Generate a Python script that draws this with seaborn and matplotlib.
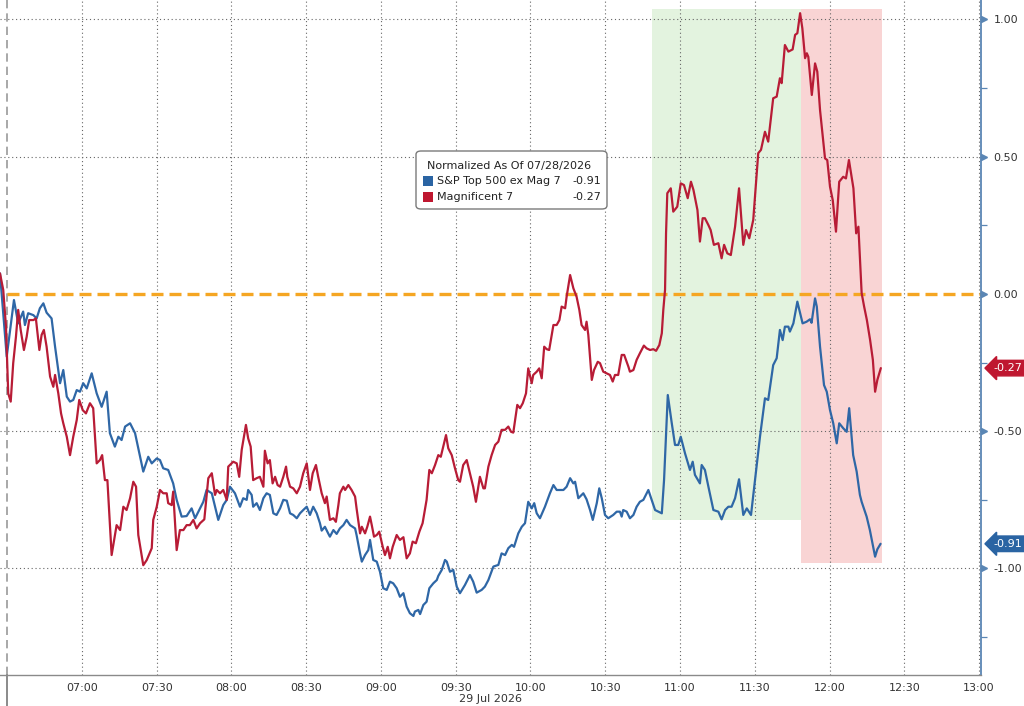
import numpy as np
import pandas as pd
import matplotlib
matplotlib.use("Agg")
import matplotlib.pyplot as plt
import matplotlib.dates as mdates
import matplotlib.transforms as mtransforms
from matplotlib.patches import FancyBboxPatch, Rectangle
import seaborn as sns

# ---------------- data (minutes after 06:30 on 29 Jul 2026, normalized %) ----------------
session_start = "2026-07-29 06:30"

blue_minutes = [-2.9, -0.2, 2.7, 4.4, 6.4, 7.1, 8.4, 10.5, 11.8, 13.1, 14.5, 15.8, 17.8, 19.2, 21.2, 22.5, 23.9, 25.2, 26.5, 27.9, 29.2, 30.5, 31.9, 33.9, 35.9, 37.9, 39.9, 41.2, 43.2, 44.6, 45.9, 47.3, 49.3, 51.3, 53.3, 54.6, 56.6, 58.0, 60.0, 61.3, 62.6, 64.6, 66.6, 68.0, 70.0, 72.0, 74.0, 75.4, 77.4, 78.7, 80.0, 82.1, 84.7, 86.7, 88.1, 89.4,
                91.4, 93.4, 94.7, 96.1, 96.7, 98.1, 98.7, 100.1, 101.4, 102.8, 104.1, 105.4, 106.8, 108.1, 109.5, 110.8, 112.2, 113.5, 114.8, 116.2, 117.5, 118.8, 120.2, 121.5, 122.8, 124.2, 125.5, 126.2, 127.5, 128.8, 129.5, 130.9, 132.2, 133.5, 134.9, 136.2, 137.6, 139.6, 140.2, 141.6, 142.3, 143.6, 144.9, 145.6, 146.9, 148.3, 149.6, 150.9, 152.3, 153.6, 154.9, 156.3, 157.6, 159.0, 160.3, 161.6, 163.0, 163.6, 165.0, 165.7, 167.0, 168.3, 169.4, 171.0, 172.4, 173.0, 174.4, 175.7, 176.4, 177.7, 179.0, 180.4, 181.7,
                183.7, 185.7, 187.0, 188.4, 190.4, 191.7, 193.1, 195.1, 197.1, 198.4, 199.8, 201.1, 202.5, 203.4, 205.1, 206.5, 207.8, 209.1, 210.5, 211.5, 212.5, 213.8, 215.8, 217.8, 219.2, 220.5, 221.8, 223.2, 224.5, 225.9, 227.2, 227.9, 229.2, 230.5, 231.2, 232.5, 233.9, 235.0, 236.6, 237.6, 238.6, 239.9, 241.2, 243.2, 244.6, 245.9, 246.6, 247.2, 248.6, 249.9, 251.3, 252.6, 253.9, 255.3, 257.3, 260.0, 262.7, 263.6, 265.1, 266.7, 268.0, 269.3, 270.3, 272.0, 274.0, 275.1, 276.0, 278.0, 278.7, 280.0, 281.4, 283.4, 285.4, 286.7, 288.1, 289.4, 290.7, 292.1, 293.7, 295.4, 296.8, 298.5, 300.1, 302.1, 304.1, 305.4, 307.4, 308.8, 310.1, 311.2, 312.1, 313.5, 314.1, 315.5, 317.1, 319.2, 320.8, 322.2, 322.8, 324.2, 324.9, 326.2, 327.8, 328.9, 330.2, 331.5, 332.9, 333.9, 335.5, 336.9, 337.9, 339.5, 340.9, 342.2, 342.9, 344.9, 346.2, 348.3, 349.2, 350.5]
blue_values = [0.075, -0.228, -0.022, -0.107, -0.064, -0.113, -0.070, -0.077, -0.089, -0.052, -0.034, -0.068, -0.089, -0.192, -0.325, -0.277, -0.374, -0.392, -0.386, -0.350, -0.356, -0.325, -0.344, -0.289, -0.362, -0.411, -0.356, -0.507, -0.556, -0.520, -0.532, -0.483, -0.471, -0.507, -0.593, -0.647, -0.593, -0.617, -0.599, -0.605, -0.635, -0.641, -0.690, -0.750, -0.811, -0.809, -0.781, -0.817, -0.781, -0.757, -0.714, -0.726, -0.823, -0.769, -0.750, -0.702,
               -0.726, -0.775, -0.744, -0.750, -0.714, -0.732, -0.775, -0.762, -0.787, -0.744, -0.726, -0.732, -0.799, -0.805, -0.781, -0.750, -0.753, -0.799, -0.805, -0.817, -0.799, -0.787, -0.775, -0.805, -0.775, -0.799, -0.835, -0.862, -0.848, -0.872, -0.884, -0.860, -0.874, -0.854, -0.842, -0.823, -0.842, -0.854, -0.878, -0.945, -0.975, -0.951, -0.933, -0.896, -0.969, -0.975, -1.012, -1.072, -1.078, -1.048, -1.054, -1.072, -1.103, -1.090, -1.139, -1.163, -1.173, -1.157, -1.151, -1.166, -1.133, -1.121, -1.072, -1.054, -1.042, -1.027, -1.005, -0.969, -0.975, -1.012, -1.005, -1.066, -1.090,
               -1.060, -1.024, -1.048, -1.088, -1.078, -1.066, -1.042, -0.993, -0.987, -0.945, -0.951, -0.926, -0.914, -0.921, -0.872, -0.848, -0.835, -0.757, -0.781, -0.762, -0.799, -0.817, -0.775, -0.726, -0.696, -0.714, -0.714, -0.714, -0.702, -0.671, -0.690, -0.684, -0.744, -0.732, -0.726, -0.748, -0.787, -0.823, -0.762, -0.708, -0.744, -0.805, -0.817, -0.805, -0.793, -0.793, -0.811, -0.787, -0.793, -0.817, -0.805, -0.775, -0.757, -0.750, -0.714, -0.787, -0.799, -0.678, -0.368, -0.471, -0.550, -0.550, -0.520, -0.580, -0.641, -0.611, -0.659, -0.690, -0.623, -0.641, -0.702, -0.787, -0.793, -0.821, -0.787, -0.775, -0.775, -0.744, -0.675, -0.805, -0.781, -0.805, -0.678, -0.520, -0.380, -0.386, -0.259, -0.234, -0.131, -0.168, -0.119, -0.119, -0.137, -0.107, -0.028, -0.107, -0.101, -0.092, -0.105, -0.016, -0.046, -0.192, -0.332, -0.356, -0.423, -0.471, -0.544, -0.471, -0.489, -0.502, -0.416, -0.587, -0.647, -0.732, -0.757, -0.811, -0.860, -0.957, -0.930, -0.910]

red_minutes = [-2.9, -1.6, -0.5, 0.4, 1.4, 2.4, 3.5, 4.4, 5.4, 6.7, 7.8, 8.8, 10.5, 11.5, 12.9, 13.8, 14.7, 15.8, 17.2, 18.5, 19.2, 20.5, 21.6, 22.5, 23.9, 25.2, 26.5, 27.9, 28.9, 30.3, 31.6, 33.2, 34.5, 35.9, 37.2, 38.1, 39.2, 40.2, 41.9, 43.9, 45.3, 46.6, 47.9, 49.3, 50.6, 51.7, 52.6, 54.6, 56.0, 58.0, 58.6, 60.0, 61.3, 62.6, 64.0, 64.6, 66.0, 66.6, 68.0, 69.3, 70.7, 72.0, 73.3, 74.7, 76.0, 77.4, 79.1, 80.7, 82.1, 83.4, 84.1, 85.4, 86.7, 88.1, 88.7, 90.7, 92.1, 93.1, 94.1, 95.8, 96.7, 97.7, 98.7, 100.1, 101.4, 102.8, 103.4, 104.5, 105.4, 106.5, 107.5, 108.5, 109.5, 110.8, 111.9, 112.4, 113.5, 114.8, 116.2, 117.5, 118.8, 120.2, 121.5, 122.6, 123.9, 124.8, 126.2, 127.5, 128.2, 129.5, 130.9, 131.9, 132.9, 133.5, 134.9, 135.6, 136.9, 138.2, 139.6, 140.2, 141.6, 142.3, 143.6, 144.5, 145.6, 146.3, 147.2, 148.3, 149.3, 150.7, 151.6, 152.7, 153.6, 154.7, 156.3, 157.6, 159.0, 160.3, 161.6, 162.7, 164.0, 165.4, 166.7, 168.3, 169.4, 170.4, 171.7, 173.0, 174.0, 175.0, 176.1, 177.0, 178.4, 179.7, 181.0,
               181.7, 183.0, 184.4, 185.7, 187.0, 188.1, 189.7, 191.1, 191.7, 193.1, 194.4, 195.8, 197.1, 198.4, 199.8, 201.1, 202.2, 203.1, 204.7, 205.8, 206.9, 208.2, 209.1, 210.5, 211.1, 212.5, 213.5, 214.5, 215.5, 216.5, 217.5, 219.2, 220.5, 221.6, 222.5, 223.9, 224.5, 225.9, 227.2, 228.5, 229.6, 230.5, 231.9, 232.5, 233.2, 234.6, 235.5, 237.0, 237.9, 239.2, 240.6, 241.9, 243.0, 243.9, 245.2, 246.6, 247.6, 249.3, 249.9, 251.3, 252.6, 253.9, 255.5, 256.6, 258.0, 259.3, 260.4, 261.7, 262.7, 263.3, 264.0, 264.4, 264.9, 266.3, 267.3, 268.9, 270.3, 271.6, 273.1, 274.4, 275.4, 277.0, 278.0, 279.1, 280.0, 281.4, 282.3, 283.6, 285.4, 286.7, 287.7, 289.0, 290.4, 292.1, 293.7, 295.4, 296.5, 297.8, 299.4, 301.4, 302.5, 304.1, 305.4, 307.4, 308.8, 310.1, 310.8, 312.1, 313.5, 315.2, 316.2, 317.1, 318.2, 319.1, 320.2, 320.9, 321.5, 322.9, 324.2, 325.1, 326.2, 328.2, 329.1, 330.2, 331.3, 332.6, 333.9, 335.5, 336.6, 337.8, 339.6, 340.7, 341.6, 342.9, 343.9, 345.0, 346.3, 347.4, 348.3, 349.2, 350.6]
red_values = [0.075, 0.015, -0.119, -0.362, -0.392, -0.252, -0.156, -0.058, -0.131, -0.204, -0.156, -0.095, -0.095, -0.089, -0.204, -0.149, -0.131, -0.192, -0.301, -0.338, -0.295, -0.362, -0.435, -0.471, -0.520, -0.587, -0.520, -0.459, -0.386, -0.423, -0.435, -0.398, -0.416, -0.617, -0.605, -0.587, -0.678, -0.678, -0.951, -0.842, -0.860, -0.775, -0.787, -0.744, -0.684, -0.702, -0.878, -0.988, -0.969, -0.926, -0.823, -0.775, -0.714, -0.726, -0.726, -0.762, -0.769, -0.720, -0.933, -0.860, -0.860, -0.842, -0.842, -0.823, -0.854, -0.835, -0.821, -0.671, -0.653, -0.732, -0.714, -0.726, -0.714, -0.750, -0.629, -0.611, -0.617, -0.666, -0.568, -0.477, -0.526, -0.556, -0.678, -0.671, -0.666, -0.702, -0.571, -0.617, -0.605, -0.690, -0.666, -0.696, -0.702, -0.666, -0.629, -0.666, -0.702, -0.708, -0.726, -0.702, -0.653, -0.617, -0.714, -0.653, -0.623, -0.666, -0.726, -0.762, -0.738, -0.823, -0.817, -0.830, -0.769, -0.726, -0.702, -0.714, -0.696, -0.714, -0.738, -0.781, -0.872, -0.848, -0.872, -0.848, -0.811, -0.842, -0.884, -0.878, -0.866, -0.921, -0.951, -0.921, -0.963, -0.921, -0.878, -0.896, -0.886, -0.963, -0.945, -0.902, -0.908, -0.866, -0.835, -0.750, -0.641, -0.653, -0.623, -0.587, -0.593, -0.556, -0.514, -0.562, -0.587, -0.635, -0.678,
              -0.684, -0.623, -0.605, -0.653, -0.702, -0.757, -0.666, -0.708, -0.708, -0.629, -0.587, -0.550, -0.538, -0.495, -0.495, -0.483, -0.502, -0.505, -0.404, -0.416, -0.398, -0.362, -0.271, -0.325, -0.295, -0.283, -0.271, -0.307, -0.192, -0.201, -0.204, -0.113, -0.113, -0.095, -0.046, -0.052, -0.010, 0.069, 0.021, -0.010, -0.058, -0.113, -0.131, -0.101, -0.149, -0.313, -0.277, -0.247, -0.252, -0.283, -0.289, -0.295, -0.319, -0.295, -0.295, -0.222, -0.222, -0.265, -0.283, -0.277, -0.240, -0.216, -0.188, -0.198, -0.204, -0.201, -0.207, -0.186, -0.143, -0.058, 0.015, 0.221, 0.367, 0.385, 0.300, 0.318, 0.403, 0.397, 0.349, 0.409, 0.379, 0.306, 0.191, 0.276, 0.276, 0.251, 0.233, 0.179, 0.185, 0.130, 0.179, 0.148, 0.142, 0.245, 0.385, 0.179, 0.233, 0.203, 0.270, 0.513, 0.525, 0.591, 0.555, 0.713, 0.719, 0.786, 0.768, 0.907, 0.883, 0.891, 0.944, 0.950, 1.023, 0.968, 0.859, 0.877, 0.864, 0.725, 0.840, 0.810, 0.670, 0.494, 0.488, 0.391, 0.342, 0.227, 0.409, 0.427, 0.421, 0.488, 0.385, 0.221, 0.245, 0.003, -0.046, -0.095, -0.168, -0.240, -0.356, -0.313, -0.270]

series_names = ["S&P Top 500 ex Mag 7", "Magnificent 7"]
last_values = [-0.91, -0.27]
legend_title = "Normalized As Of 07/28/2026"
date_label = "29 Jul 2026"
y_ticks = [-1.0, -0.5, 0.0, 0.5, 1.0]
y_minor_ticks = [-1.25, -0.75, -0.25, 0.25, 0.75]
x_tick_times = ["07:00", "07:30", "08:00", "08:30", "09:00", "09:30", "10:00",
                "10:30", "11:00", "11:30", "12:00", "12:30", "13:00"]
x_minor_times = ["06:45", "07:15", "07:45", "08:15", "08:45", "09:15", "09:45",
                 "10:15", "10:45", "11:15", "11:45", "12:15", "12:45"]
zero_level = 0.0
# highlighted windows: (start min, end min, low, high)
rally_window = [258.9, 318.4, -0.823, 1.037]
selloff_window = [318.4, 351.2, -0.979, 1.037]
x_range_minutes = [-2.9, 390.8]
y_range = [-1.388, 1.071]

# ---------------- styling ----------------
BLUE = "#2f67a6"
RED = "#b81c36"
TAG_BLUE = "#2a64a3"
TAG_RED = "#bf1730"
ORANGE = "#f5a623"
SPINE_BLUE = "#5a86b4"

sns.set_style("white")
plt.rcParams["font.family"] = ["DejaVu Sans"]

base = pd.Timestamp(session_start)
def to_time(mins):
    return base + pd.to_timedelta(np.asarray(mins, dtype=float), unit="m")

df = pd.concat([
    pd.DataFrame({"time": to_time(blue_minutes), "value": blue_values, "series": series_names[0]}),
    pd.DataFrame({"time": to_time(red_minutes), "value": red_values, "series": series_names[1]}),
], ignore_index=True)

W, H = 1024, 706
fig = plt.figure(figsize=(W / 100, H / 100), dpi=100)
ax = fig.add_axes([0, 31 / H, 981 / W, 675 / H])

# shaded windows
for win, col in [(rally_window, "#e3f3df"), (selloff_window, "#f9d4d4")]:
    t = to_time(win[:2])
    ax.fill_between(t, [win[2]] * 2, [win[3]] * 2, color=col, lw=0, zorder=0.8)

sns.lineplot(data=df, x="time", y="value", hue="series",
             palette=[BLUE, RED], hue_order=series_names,
             estimator=None, sort=False, linewidth=1.6, legend=False, ax=ax, zorder=3)

# zero reference line
ax.plot(to_time([0, x_range_minutes[1]]), [zero_level, zero_level], color=ORANGE,
        lw=2.4, dashes=(3.6, 1.8), zorder=2.5, solid_capstyle="butt")

# session start marker
t0 = mdates.date2num(base)
ax.axvline(t0, color="#9a9a9a", lw=1.2, dashes=(5, 3), zorder=1.2)
trans_xa = mtransforms.blended_transform_factory(ax.transData, ax.transAxes)
ax.plot([t0, t0], [-0.06, 0], transform=trans_xa, color="#777777", lw=1.2, clip_on=False)

ax.set_xlim(to_time(x_range_minutes))
ax.set_ylim(*y_range)

# x axis
day = session_start.split(" ")[0]
major_t = mdates.date2num(pd.to_datetime([f"{day} {s}" for s in x_tick_times]))
minor_t = mdates.date2num(pd.to_datetime([f"{day} {s}" for s in x_minor_times]))
ax.set_xticks(major_t)
ax.set_xticklabels(x_tick_times)
ax.set_xticks(minor_t, minor=True)
ax.tick_params(axis="x", which="major", length=0, pad=6, labelsize=8, labelcolor="#333333")
ax.tick_params(axis="x", which="minor", length=4, width=0.9, color="#888888", direction="out")
ax.set_xlabel("")
ax.text(0.5, -0.036, date_label, transform=ax.transAxes, ha="center", va="center",
        fontsize=8, color="#333333")

# y axis on right
ax.yaxis.tick_right()
ax.set_yticks(y_ticks)
ax.set_yticklabels([f"{v:.2f}" for v in y_ticks])
ax.set_yticks(y_minor_ticks, minor=True)
ax.tick_params(axis="y", which="major", length=0, pad=9, labelsize=8, labelcolor="#333333")
ax.tick_params(axis="y", which="minor", length=4, width=0.9, color=SPINE_BLUE, direction="out")
ax.set_ylabel("")
trans_ay = mtransforms.blended_transform_factory(ax.transAxes, ax.transData)
ax.plot([1.0035] * len(y_ticks), y_ticks, transform=trans_ay, ls="none", marker=">",
        ms=5, color=SPINE_BLUE, clip_on=False, zorder=5)

# grid
ax.set_axisbelow(True)
for xt in major_t:
    ax.axvline(xt, color="#666666", lw=0.8, ls=(0, (1, 2.5)), zorder=1)
for yt in y_ticks:
    if yt != zero_level:
        ax.axhline(yt, color="#666666", lw=0.8, ls=(0, (1, 2.5)), zorder=1)

for s in ["top", "left"]:
    ax.spines[s].set_visible(False)
ax.spines["right"].set_color(SPINE_BLUE)
ax.spines["right"].set_linewidth(1.3)
ax.spines["bottom"].set_color("#8a8a8a")
ax.spines["bottom"].set_linewidth(1.0)

# last-value tags on the right axis
for val, col in [(last_values[0], TAG_BLUE), (last_values[1], TAG_RED)]:
    tr = trans_ay + mtransforms.ScaledTranslation(9 / 72, 0, fig.dpi_scale_trans)
    ax.text(1.0, val, f"{val:.2f}", transform=tr, ha="left", va="center", fontsize=8,
            color="white", clip_on=False, zorder=6,
            bbox=dict(boxstyle="larrow,pad=0.25", fc=col, ec=col))

# legend box
def fx(px): return px / W
def fy(py): return 1 - py / H
box = FancyBboxPatch((fx(416), fy(209)), fx(607) - fx(416), fy(151) - fy(209),
                     boxstyle="round,pad=0,rounding_size=0.005", transform=fig.transFigure,
                     fc="white", ec="#7a7a7a", lw=1.0, zorder=10)
fig.patches.append(box)
fig.text(fx(427), fy(166), legend_title, fontsize=8, color="#222222", va="center", ha="left", zorder=11)
for i, (name, val, col) in enumerate(zip(series_names, last_values, [TAG_BLUE, TAG_RED])):
    yc = 181 + i * 16
    sq = Rectangle((fx(423), fy(yc + 5)), fx(10), fy(0) - fy(10), transform=fig.transFigure,
                   fc=col, ec="none", zorder=11)
    fig.patches.append(sq)
    fig.text(fx(437), fy(yc), name, fontsize=8, color="#222222", va="center", ha="left", zorder=11)
    fig.text(fx(601), fy(yc), f"{val:.2f}", fontsize=8, color="#222222", va="center", ha="right", zorder=11)

fig.savefig("out.png", dpi=100)
